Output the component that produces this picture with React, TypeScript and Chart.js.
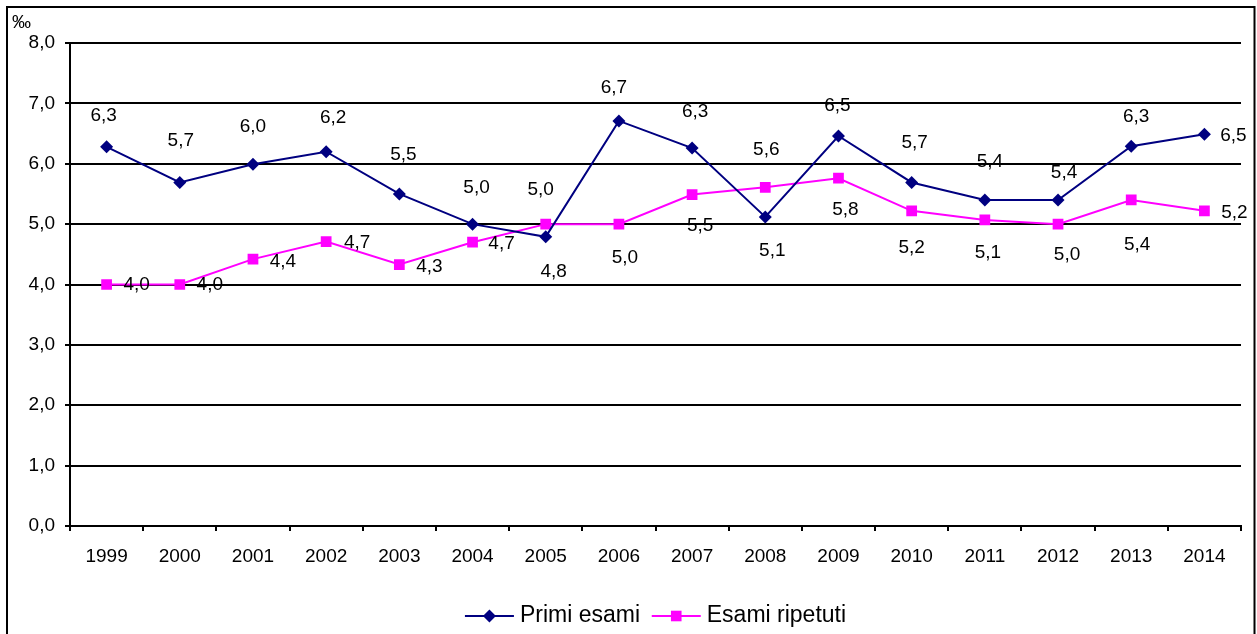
import React, { useEffect, useRef } from 'react';
import { Chart, registerables } from 'chart.js';

Chart.register(...registerables);

// ---- data ----
const YEARS = ['1999', '2000', '2001', '2002', '2003', '2004', '2005', '2006', '2007', '2008', '2009', '2010', '2011', '2012', '2013', '2014'];
const PRIMI_ESAMI = [6.28, 5.69, 5.99, 6.2, 5.5, 5.0, 4.79, 6.71, 6.26, 5.12, 6.46, 5.69, 5.4, 5.4, 6.29, 6.49];
const ESAMI_RIPETUTI = [4.0, 4.0, 4.42, 4.71, 4.33, 4.7, 5.0, 5.0, 5.49, 5.61, 5.76, 5.22, 5.07, 5.0, 5.4, 5.22];
const SERIES_NAMES = ['Primi esami', 'Esami ripetuti'];
const Y_MIN = 0;
const Y_MAX = 8;
const Y_STEP = 1;
const UNIT_LABEL = '‰';

// ---- styles ----
const FONT = '"Liberation Sans", Arial, sans-serif';
const NAVY = '#000080';
const MAGENTA = '#FF00FF';
const LABEL_SIZE = 19;
// data label offsets (dx, dy) from each point, in px
const PRIMI_LABEL_OFFSETS = [
  [-3, -33], [1, -43], [0, -39], [7, -35], [4, -41], [4, -38], [8, 33], [-5, -35],
  [3, -38], [7, 32], [-1, -32], [3, -41], [5, -40], [6, -29], [5, -31], [29, 0],
];
const ESAMI_LABEL_OFFSETS = [
  [30, -1], [30, -1], [30, 1], [31, 0], [30, 1], [29, 0], [-5, -36], [6, 32],
  [8, 30], [1, -39], [7, 30], [0, 35], [3, 31], [9, 29], [6, 43], [30, 0],
];

const fmt = (v: number) => v.toFixed(1).replace('.', ',');

function drawMarker(ctx: CanvasRenderingContext2D, style: string, x: number, y: number, color: string) {
  ctx.save();
  ctx.fillStyle = color;
  ctx.beginPath();
  if (style === 'rectRot') {
    const r = 6.5;
    ctx.moveTo(x, y - r);
    ctx.lineTo(x + r, y);
    ctx.lineTo(x, y + r);
    ctx.lineTo(x - r, y);
    ctx.closePath();
  } else {
    const s = 5.3;
    ctx.rect(x - s, y - s, 2 * s, 2 * s);
  }
  ctx.fill();
  ctx.restore();
}

const framePlugin = {
  id: 'frame',
  afterDraw(chart: any) {
    const ctx = chart.ctx as CanvasRenderingContext2D;
    ctx.save();
    ctx.strokeStyle = '#000';
    ctx.lineWidth = 2;
    ctx.strokeRect(7, 7, 1247.5, 700);
    ctx.fillStyle = '#000';
    ctx.font = `19px ${FONT}`;
    ctx.textAlign = 'left';
    ctx.textBaseline = 'alphabetic';
    ctx.fillText(UNIT_LABEL, 12, 28);
    ctx.restore();
  },
};

const dataLabelPlugin = {
  id: 'dataLabels',
  afterDatasetsDraw(chart: any) {
    const ctx = chart.ctx as CanvasRenderingContext2D;
    const offsets = [PRIMI_LABEL_OFFSETS, ESAMI_LABEL_OFFSETS];
    ctx.save();
    ctx.fillStyle = '#000';
    ctx.font = `${LABEL_SIZE}px ${FONT}`;
    ctx.textAlign = 'center';
    ctx.textBaseline = 'alphabetic';
    chart.data.datasets.forEach((ds: any, di: number) => {
      const meta = chart.getDatasetMeta(di);
      meta.data.forEach((pt: any, i: number) => {
        const [dx, dy] = offsets[di][i];
        ctx.fillText(fmt(ds.data[i]), pt.x + dx, pt.y + dy + LABEL_SIZE * 0.358);
      });
    });
    ctx.restore();
  },
};

const legendPlugin = {
  id: 'customLegend',
  afterDraw(chart: any) {
    const ctx = chart.ctx as CanvasRenderingContext2D;
    const area = chart.chartArea;
    ctx.save();
    ctx.font = `23px ${FONT}`;
    const lineLen = 49;
    const textGap = 6;
    const itemGap = 11.7;
    const items = chart.data.datasets.map((ds: any) => ({
      ds,
      w: lineLen + textGap + ctx.measureText(ds.label).width,
    }));
    const total = items.reduce((s: number, it: any) => s + it.w, 0) + itemGap * (items.length - 1);
    let x = (area.left + area.right) / 2 - total / 2;
    const ly = 616;
    items.forEach((it: any) => {
      ctx.strokeStyle = it.ds.borderColor;
      ctx.lineWidth = 2;
      ctx.beginPath();
      ctx.moveTo(x, ly);
      ctx.lineTo(x + lineLen, ly);
      ctx.stroke();
      drawMarker(ctx, it.ds.pointStyle, x + lineLen / 2, ly, it.ds.pointBackgroundColor);
      ctx.fillStyle = '#000';
      ctx.textAlign = 'left';
      ctx.textBaseline = 'alphabetic';
      ctx.fillText(it.ds.label, x + lineLen + textGap, 622);
      x += it.w + itemGap;
    });
    ctx.restore();
  },
};

export default function App() {
  const canvasRef = useRef<HTMLCanvasElement | null>(null);

  useEffect(() => {
    const canvas = canvasRef.current;
    if (!canvas) return;
    const chart = new Chart(canvas, {
      type: 'line',
      data: {
        labels: YEARS,
        datasets: [
          {
            label: SERIES_NAMES[0],
            data: PRIMI_ESAMI,
            borderColor: NAVY,
            backgroundColor: NAVY,
            borderWidth: 2,
            pointStyle: 'rectRot',
            pointRadius: 6.5,
            pointBackgroundColor: NAVY,
            pointBorderColor: NAVY,
            pointBorderWidth: 0,
            tension: 0,
            fill: false,
          },
          {
            label: SERIES_NAMES[1],
            data: ESAMI_RIPETUTI,
            borderColor: MAGENTA,
            backgroundColor: MAGENTA,
            borderWidth: 2,
            pointStyle: 'rect',
            pointRadius: 7.6,
            pointBackgroundColor: MAGENTA,
            pointBorderColor: MAGENTA,
            pointBorderWidth: 0,
            tension: 0,
            fill: false,
          },
        ],
      },
      options: {
        animation: false,
        responsive: false,
        devicePixelRatio: 1,
        layout: { padding: { top: 43, right: 16, left: 0, bottom: 0 } },
        plugins: {
          legend: { display: false },
          tooltip: { enabled: false },
          title: { display: false },
        },
        scales: {
          x: {
            type: 'category',
            offset: true,
            grid: {
              display: true,
              offset: true,
              drawOnChartArea: false,
              drawTicks: true,
              tickLength: 5,
              color: '#000',
              lineWidth: 2,
            },
            border: { display: true, color: '#000', width: 2 },
            ticks: {
              color: '#000',
              font: { family: FONT, size: LABEL_SIZE },
              padding: 14.5,
              maxRotation: 0,
              autoSkip: false,
            },
            afterFit: (scale: any) => {
              scale.height = 108;
            },
          },
          y: {
            min: Y_MIN,
            max: Y_MAX,
            grid: {
              display: true,
              drawOnChartArea: true,
              drawTicks: true,
              tickLength: 5,
              color: '#000',
              lineWidth: 2,
            },
            border: { display: true, color: '#000', width: 2 },
            ticks: {
              stepSize: Y_STEP,
              color: '#000',
              font: { family: FONT, size: LABEL_SIZE },
              padding: 10,
              callback: (v: any) => fmt(Number(v)),
            },
            afterFit: (scale: any) => {
              scale.width = 70;
            },
          },
        },
      },
      plugins: [dataLabelPlugin, framePlugin, legendPlugin],
    });
    return () => chart.destroy();
  }, []);

  return (
    <div style={{ position: 'absolute', left: 0, top: 0, width: 1257, height: 634, background: '#fff' }}>
      <canvas ref={canvasRef} width={1257} height={634} style={{ width: 1257, height: 634, display: 'block' }} />
    </div>
  );
}
